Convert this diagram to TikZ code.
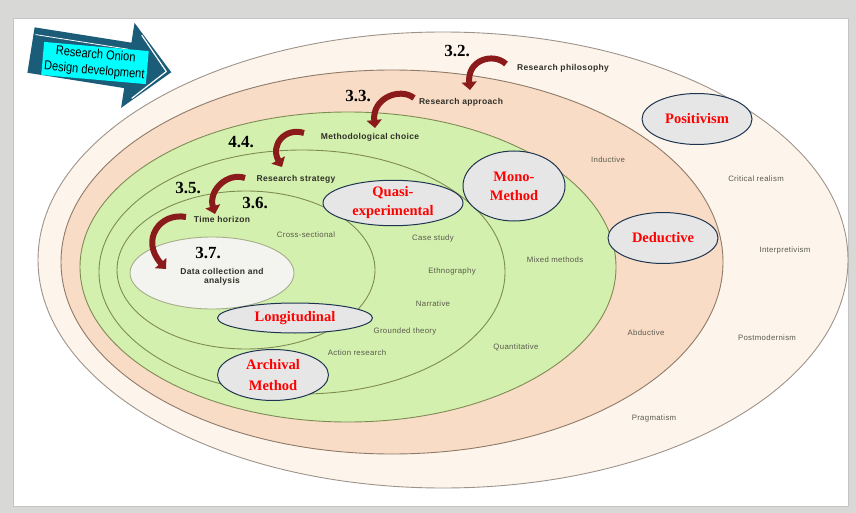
\documentclass[tikz,border=0pt]{standalone}
\usepackage{fontspec}
\setmainfont{Liberation Serif}
\newfontfamily\labelfont[LetterSpace=4]{Liberation Sans}
\newfontfamily\bannerfont{Liberation Sans}
\usepackage{tikz}
\usetikzlibrary{shapes.geometric,arrows.meta,positioning}
\definecolor{frame}{HTML}{D8D8D6}
\definecolor{frameedge}{HTML}{C4C4C2}
\definecolor{philo}{HTML}{FDF5EC}
\definecolor{philoedge}{HTML}{9E938A}
\definecolor{approach}{HTML}{F9DCC6}
\definecolor{approachedge}{HTML}{8E7A68}
\definecolor{choice}{HTML}{D3F0AE}
\definecolor{choiceedge}{HTML}{7F8B55}
\definecolor{core}{HTML}{F3F3EF}
\definecolor{ringtext}{HTML}{303028}
\definecolor{itemtext}{HTML}{5A5A4C}
\definecolor{onionred}{HTML}{8B1A1A}
\definecolor{tagfill}{HTML}{E6E6E6}
\definecolor{tagedge}{HTML}{1E3550}
\definecolor{banner}{HTML}{1B5C78}
\definecolor{bannertext}{HTML}{00FFFF}
\tikzset{
  RingTitle/.style={font=\labelfont\bfseries\fontsize{8.5}{9}\selectfont, text=ringtext, inner sep=1pt},
  RingItem/.style={font=\labelfont\fontsize{7.8}{8.5}\selectfont, text=itemtext, inner sep=1pt},
  StepNo/.style={font=\bfseries\fontsize{17}{17}\selectfont, inner sep=0pt},
  Tag/.style={
    ellipse, draw=tagedge, line width=1pt, fill=tagfill,
    text=red, inner sep=0pt, align=center,
    font=\bfseries\fontsize{14.5}{19}\selectfont
  },
  TurnArrow/.style={draw=onionred, line width=6pt,
    -{Triangle[length=8pt,width=15pt]}}
}

\begin{document}
\begin{tikzpicture}[x=1pt, y=-1pt, line join=round]
  \useasboundingbox (0,0) rectangle (856,513);
  % frame
  \fill[frame] (0,0) rectangle (856,513);
  \fill[white, draw=frameedge] (13,18) rectangle (848,506);

  % onion layers
  \coordinate (L1) at (443,260);
  \coordinate (L2) at (392,262);
  \coordinate (L3) at (348,267);
  \coordinate (L4) at (302,272);
  \coordinate (L5) at (246,270);
  \coordinate (L6) at (212,273);
  \draw[fill=philo, draw=philoedge, line width=0.9pt] (L1) ellipse [x radius=405pt, y radius=228pt];
  \draw[fill=approach, draw=approachedge, line width=0.9pt] (L2) ellipse [x radius=331pt, y radius=192pt];
  \draw[fill=choice, draw=choiceedge, line width=0.9pt] (L3) ellipse [x radius=268pt, y radius=155pt];
  \draw[draw=choiceedge, line width=0.9pt] (L4) ellipse [x radius=203pt, y radius=122pt];
  \draw[draw=choiceedge, line width=0.9pt] (L5) ellipse [x radius=129pt, y radius=79pt];
  \draw[fill=core, draw=choiceedge!70, line width=0.9pt] (L6) ellipse [x radius=82pt, y radius=36pt];

  % layer titles
  \node[RingTitle] (philosophy) at (563,68) {Research philosophy};
  \node[RingTitle] (approach) at (461,102) {Research approach};
  \node[RingTitle] (choice) at (370,137) {Methodological choice};
  \node[RingTitle] (strategy) at (296,179) {Research strategy};
  \node[RingTitle] (horizon) at (222,219) {Time horizon};
  \node[RingTitle, align=center] (datacoll) at (222,277) {Data collection and\\analysis};

  % layer contents
  \node[RingItem] (critical) at (756,179) {Critical realism};
  \node[RingItem] (interpret) at (785,250) {Interpretivism};
  \node[RingItem] (postmod) at (767,338) {Postmodernism};
  \node[RingItem] (pragma) at (654,418) {Pragmatism};
  \node[RingItem] (inductive) at (608,160) {Inductive};
  \node[RingItem] (abductive) at (646,333) {Abductive};
  \node[RingItem] (mixed) at (555,260) {Mixed methods};
  \node[RingItem] (quant) at (516,347) {Quantitative};
  \node[RingItem] (casestudy) at (433,238) {Case study};
  \node[RingItem] (ethno) at (452,271) {Ethnography};
  \node[RingItem] (narrative) at (433,304) {Narrative};
  \node[RingItem] (grounded) at (405,331) {Grounded theory};
  \node[RingItem] (action) at (357,353) {Action research};
  \node[RingItem] (crosssec) at (306,235) {Cross-sectional};

  % step numbers
  \node[StepNo] (n32) at (457,51) {3.2.};
  \node[StepNo] (n33) at (358,96) {3.3.};
  \node[StepNo] (n44) at (241,142) {4.4.};
  \node[StepNo] (n35) at (188,188) {3.5.};
  \node[StepNo] (n36) at (255,203) {3.6.};
  \node[StepNo] (n37) at (208,253) {3.7.};

  % turning arrows between layers
  \coordinate (t32) at (470,90);
  \coordinate (t33) at (375,128);
  \coordinate (t44) at (282,167);
  \coordinate (t35) at (215,214);
  \coordinate (t37) at (166,269);
  \draw[TurnArrow] (506,64) .. controls (493,52) and (467,60) .. (t32);
  \draw[TurnArrow] (414,98) .. controls (400,87) and (372,98) .. (t33);
  \draw[TurnArrow] (304,133) .. controls (285,127) and (270,145) .. (t44);
  \draw[TurnArrow] (245,178) .. controls (228,172) and (208,190) .. (t35);
  \draw[TurnArrow] (186,217) .. controls (160,212) and (140,240) .. (t37);

  % callouts
  \node[Tag, minimum width=110pt, minimum height=51pt] (positivism) at (697,119) {Positivism};
  \node[Tag, minimum width=110pt, minimum height=51pt] (deductive) at (663,238) {Deductive};
  \node[Tag, minimum width=102pt, minimum height=70pt] (mono) at (514,186) {Mono-\\Method};
  \node[Tag, minimum width=140pt, minimum height=37pt] (quasi) at (393,203) {Quasi-\\experimental};
  \node[Tag, minimum width=155pt, minimum height=30pt] (longit) at (295,318) {Longitudinal};
  \node[Tag, minimum width=111pt, minimum height=51pt, font=\bfseries\fontsize{14.5}{21}\selectfont] (archival) at (273,375) {Archival\\Method};

  % banner arrow, top left
  \begin{scope}[rotate around={-9:(100,62)}]
    \fill[banner] (30,38) -- (128,38) -- (128,18) -- (172,61) -- (128,104) -- (128,84) -- (30,84) -- cycle;
    \draw[white, line width=1.2pt] (137,29) -- (167,61) -- (137,93);
    \draw[white, line width=0.8pt] (32,45) -- (126,45);
  \end{scope}
  \node[fill=bannertext, align=center, inner sep=2.5pt, rotate=-5, xscale=0.85,
    font=\bannerfont\fontsize{13}{16}\selectfont] (bannerbox) at (95,63) {Research Onion\\Design development};
\end{tikzpicture}
\end{document}
